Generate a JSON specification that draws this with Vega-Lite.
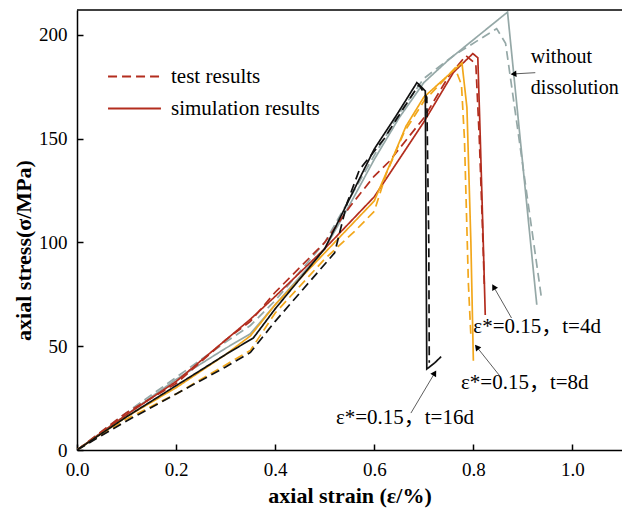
{
  "$schema": "https://vega.github.io/schema/vega-lite/v6.json",
  "width": 545,
  "height": 440,
  "autosize": "none",
  "padding": {"left": 77, "top": 10, "right": 0, "bottom": 62},
  "background": "white",
  "config": {
    "view": {"stroke": null},
    "axis": {
      "grid": false,
      "labelFlush": false,
      "domainColor": "black",
      "domainWidth": 1.5,
      "tickColor": "black",
      "tickWidth": 1.5,
      "tickSize": -6,
      "labelFont": "Liberation Serif, Times New Roman, serif",
      "labelFontSize": 19,
      "labelColor": "black",
      "titleFont": "Liberation Serif, Times New Roman, serif",
      "titleFontSize": 22,
      "titleFontWeight": "bold",
      "titleColor": "black"
    }
  },
  "datasets": {
    "curves": [
      {"s": "without dissolution", "k": "simulation results", "i": 0, "x": 0, "y": 0},
      {"s": "without dissolution", "k": "simulation results", "i": 1, "x": 0.1, "y": 17},
      {"s": "without dissolution", "k": "simulation results", "i": 2, "x": 0.2, "y": 34},
      {"s": "without dissolution", "k": "simulation results", "i": 3, "x": 0.3, "y": 49},
      {"s": "without dissolution", "k": "simulation results", "i": 4, "x": 0.35, "y": 56},
      {"s": "without dissolution", "k": "simulation results", "i": 5, "x": 0.4, "y": 70},
      {"s": "without dissolution", "k": "simulation results", "i": 6, "x": 0.5, "y": 97},
      {"s": "without dissolution", "k": "simulation results", "i": 7, "x": 0.55, "y": 118},
      {"s": "without dissolution", "k": "simulation results", "i": 8, "x": 0.6, "y": 140},
      {"s": "without dissolution", "k": "simulation results", "i": 9, "x": 0.65, "y": 160},
      {"s": "without dissolution", "k": "simulation results", "i": 10, "x": 0.7, "y": 177},
      {"s": "without dissolution", "k": "simulation results", "i": 11, "x": 0.75, "y": 188},
      {"s": "without dissolution", "k": "simulation results", "i": 12, "x": 0.869, "y": 211},
      {"s": "without dissolution", "k": "simulation results", "i": 13, "x": 0.928, "y": 70},
      {"s": "without dissolution", "k": "test results", "i": 0, "x": 0, "y": 0},
      {"s": "without dissolution", "k": "test results", "i": 1, "x": 0.1, "y": 18},
      {"s": "without dissolution", "k": "test results", "i": 2, "x": 0.2, "y": 35},
      {"s": "without dissolution", "k": "test results", "i": 3, "x": 0.3, "y": 52},
      {"s": "without dissolution", "k": "test results", "i": 4, "x": 0.35, "y": 60},
      {"s": "without dissolution", "k": "test results", "i": 5, "x": 0.4, "y": 72},
      {"s": "without dissolution", "k": "test results", "i": 6, "x": 0.5, "y": 100},
      {"s": "without dissolution", "k": "test results", "i": 7, "x": 0.55, "y": 121},
      {"s": "without dissolution", "k": "test results", "i": 8, "x": 0.6, "y": 142},
      {"s": "without dissolution", "k": "test results", "i": 9, "x": 0.65, "y": 162},
      {"s": "without dissolution", "k": "test results", "i": 10, "x": 0.7, "y": 179},
      {"s": "without dissolution", "k": "test results", "i": 11, "x": 0.76, "y": 190},
      {"s": "without dissolution", "k": "test results", "i": 12, "x": 0.847, "y": 203},
      {"s": "without dissolution", "k": "test results", "i": 13, "x": 0.865, "y": 196},
      {"s": "without dissolution", "k": "test results", "i": 14, "x": 0.937, "y": 74},
      {"s": "t=4d", "k": "simulation results", "i": 0, "x": 0, "y": 0},
      {"s": "t=4d", "k": "simulation results", "i": 1, "x": 0.1, "y": 17},
      {"s": "t=4d", "k": "simulation results", "i": 2, "x": 0.2, "y": 33},
      {"s": "t=4d", "k": "simulation results", "i": 3, "x": 0.3, "y": 53},
      {"s": "t=4d", "k": "simulation results", "i": 4, "x": 0.35, "y": 63},
      {"s": "t=4d", "k": "simulation results", "i": 5, "x": 0.4, "y": 74},
      {"s": "t=4d", "k": "simulation results", "i": 6, "x": 0.5, "y": 97},
      {"s": "t=4d", "k": "simulation results", "i": 7, "x": 0.6, "y": 122},
      {"s": "t=4d", "k": "simulation results", "i": 8, "x": 0.7, "y": 158},
      {"s": "t=4d", "k": "simulation results", "i": 9, "x": 0.76, "y": 182},
      {"s": "t=4d", "k": "simulation results", "i": 10, "x": 0.799, "y": 191},
      {"s": "t=4d", "k": "simulation results", "i": 11, "x": 0.809, "y": 189},
      {"s": "t=4d", "k": "simulation results", "i": 12, "x": 0.814, "y": 150},
      {"s": "t=4d", "k": "simulation results", "i": 13, "x": 0.82, "y": 100},
      {"s": "t=4d", "k": "simulation results", "i": 14, "x": 0.824, "y": 65},
      {"s": "t=4d", "k": "test results", "i": 0, "x": 0, "y": 0},
      {"s": "t=4d", "k": "test results", "i": 1, "x": 0.1, "y": 18},
      {"s": "t=4d", "k": "test results", "i": 2, "x": 0.2, "y": 32},
      {"s": "t=4d", "k": "test results", "i": 3, "x": 0.3, "y": 53},
      {"s": "t=4d", "k": "test results", "i": 4, "x": 0.35, "y": 62},
      {"s": "t=4d", "k": "test results", "i": 5, "x": 0.4, "y": 76},
      {"s": "t=4d", "k": "test results", "i": 6, "x": 0.5, "y": 100},
      {"s": "t=4d", "k": "test results", "i": 7, "x": 0.55, "y": 117},
      {"s": "t=4d", "k": "test results", "i": 8, "x": 0.6, "y": 132},
      {"s": "t=4d", "k": "test results", "i": 9, "x": 0.63, "y": 139},
      {"s": "t=4d", "k": "test results", "i": 10, "x": 0.7, "y": 160},
      {"s": "t=4d", "k": "test results", "i": 11, "x": 0.75, "y": 180},
      {"s": "t=4d", "k": "test results", "i": 12, "x": 0.785, "y": 190},
      {"s": "t=4d", "k": "test results", "i": 13, "x": 0.805, "y": 186},
      {"s": "t=4d", "k": "test results", "i": 14, "x": 0.812, "y": 150},
      {"s": "t=4d", "k": "test results", "i": 15, "x": 0.818, "y": 110},
      {"s": "t=4d", "k": "test results", "i": 16, "x": 0.822, "y": 80},
      {"s": "t=8d", "k": "simulation results", "i": 0, "x": 0, "y": 0},
      {"s": "t=8d", "k": "simulation results", "i": 1, "x": 0.1, "y": 16},
      {"s": "t=8d", "k": "simulation results", "i": 2, "x": 0.2, "y": 30},
      {"s": "t=8d", "k": "simulation results", "i": 3, "x": 0.3, "y": 46},
      {"s": "t=8d", "k": "simulation results", "i": 4, "x": 0.35, "y": 55},
      {"s": "t=8d", "k": "simulation results", "i": 5, "x": 0.4, "y": 70},
      {"s": "t=8d", "k": "simulation results", "i": 6, "x": 0.5, "y": 95},
      {"s": "t=8d", "k": "simulation results", "i": 7, "x": 0.6, "y": 120},
      {"s": "t=8d", "k": "simulation results", "i": 8, "x": 0.616, "y": 129},
      {"s": "t=8d", "k": "simulation results", "i": 9, "x": 0.636, "y": 140},
      {"s": "t=8d", "k": "simulation results", "i": 10, "x": 0.664, "y": 156},
      {"s": "t=8d", "k": "simulation results", "i": 11, "x": 0.7, "y": 170},
      {"s": "t=8d", "k": "simulation results", "i": 12, "x": 0.777, "y": 186.5},
      {"s": "t=8d", "k": "simulation results", "i": 13, "x": 0.787, "y": 165},
      {"s": "t=8d", "k": "simulation results", "i": 14, "x": 0.795, "y": 100},
      {"s": "t=8d", "k": "simulation results", "i": 15, "x": 0.8, "y": 43},
      {"s": "t=8d", "k": "test results", "i": 0, "x": 0, "y": 0},
      {"s": "t=8d", "k": "test results", "i": 1, "x": 0.1, "y": 15},
      {"s": "t=8d", "k": "test results", "i": 2, "x": 0.2, "y": 27},
      {"s": "t=8d", "k": "test results", "i": 3, "x": 0.3, "y": 41},
      {"s": "t=8d", "k": "test results", "i": 4, "x": 0.35, "y": 48},
      {"s": "t=8d", "k": "test results", "i": 5, "x": 0.4, "y": 66},
      {"s": "t=8d", "k": "test results", "i": 6, "x": 0.5, "y": 92},
      {"s": "t=8d", "k": "test results", "i": 7, "x": 0.563, "y": 106},
      {"s": "t=8d", "k": "test results", "i": 8, "x": 0.6, "y": 115},
      {"s": "t=8d", "k": "test results", "i": 9, "x": 0.624, "y": 133},
      {"s": "t=8d", "k": "test results", "i": 10, "x": 0.66, "y": 153},
      {"s": "t=8d", "k": "test results", "i": 11, "x": 0.7, "y": 168},
      {"s": "t=8d", "k": "test results", "i": 12, "x": 0.763, "y": 184},
      {"s": "t=8d", "k": "test results", "i": 13, "x": 0.776, "y": 176},
      {"s": "t=8d", "k": "test results", "i": 14, "x": 0.782, "y": 150},
      {"s": "t=8d", "k": "test results", "i": 15, "x": 0.79, "y": 80},
      {"s": "t=8d", "k": "test results", "i": 16, "x": 0.795, "y": 55},
      {"s": "t=16d", "k": "simulation results", "i": 0, "x": 0, "y": 0},
      {"s": "t=16d", "k": "simulation results", "i": 1, "x": 0.1, "y": 16},
      {"s": "t=16d", "k": "simulation results", "i": 2, "x": 0.2, "y": 31},
      {"s": "t=16d", "k": "simulation results", "i": 3, "x": 0.3, "y": 46},
      {"s": "t=16d", "k": "simulation results", "i": 4, "x": 0.356, "y": 54},
      {"s": "t=16d", "k": "simulation results", "i": 5, "x": 0.4, "y": 68},
      {"s": "t=16d", "k": "simulation results", "i": 6, "x": 0.5, "y": 97},
      {"s": "t=16d", "k": "simulation results", "i": 7, "x": 0.6, "y": 145},
      {"s": "t=16d", "k": "simulation results", "i": 8, "x": 0.644, "y": 161},
      {"s": "t=16d", "k": "simulation results", "i": 9, "x": 0.686, "y": 177},
      {"s": "t=16d", "k": "simulation results", "i": 10, "x": 0.703, "y": 173},
      {"s": "t=16d", "k": "simulation results", "i": 11, "x": 0.706, "y": 39},
      {"s": "t=16d", "k": "simulation results", "i": 12, "x": 0.722, "y": 42},
      {"s": "t=16d", "k": "simulation results", "i": 13, "x": 0.735, "y": 45},
      {"s": "t=16d", "k": "test results", "i": 0, "x": 0, "y": 0},
      {"s": "t=16d", "k": "test results", "i": 1, "x": 0.1, "y": 14},
      {"s": "t=16d", "k": "test results", "i": 2, "x": 0.2, "y": 27},
      {"s": "t=16d", "k": "test results", "i": 3, "x": 0.3, "y": 40},
      {"s": "t=16d", "k": "test results", "i": 4, "x": 0.35, "y": 47},
      {"s": "t=16d", "k": "test results", "i": 5, "x": 0.4, "y": 62},
      {"s": "t=16d", "k": "test results", "i": 6, "x": 0.52, "y": 95},
      {"s": "t=16d", "k": "test results", "i": 7, "x": 0.545, "y": 119},
      {"s": "t=16d", "k": "test results", "i": 8, "x": 0.57, "y": 135},
      {"s": "t=16d", "k": "test results", "i": 9, "x": 0.62, "y": 150},
      {"s": "t=16d", "k": "test results", "i": 10, "x": 0.66, "y": 165},
      {"s": "t=16d", "k": "test results", "i": 11, "x": 0.69, "y": 176},
      {"s": "t=16d", "k": "test results", "i": 12, "x": 0.706, "y": 170},
      {"s": "t=16d", "k": "test results", "i": 13, "x": 0.71, "y": 100},
      {"s": "t=16d", "k": "test results", "i": 14, "x": 0.711, "y": 42}
    ],
    "notes": [
      {"label": "without", "x": 0.916, "y": 189.4, "size": "small"},
      {"label": "dissolution", "x": 0.916, "y": 174.5, "size": "small"},
      {"label": "ε*=0.15，t=4d", "x": 0.8, "y": 59.3, "size": "big"},
      {"label": "ε*=0.15，t=8d", "x": 0.775, "y": 32.3, "size": "big"},
      {"label": "ε*=0.15，t=16d", "x": 0.5225, "y": 15.4, "size": "big"}
    ],
    "arrows": [
      {"id": "w", "x": 0.925, "y": 181.8, "x2": 0.881, "y2": 181.2},
      {"id": "a4", "x": 0.877, "y": 63.6, "x2": 0.841, "y2": 78.6},
      {"id": "a8", "x": 0.855, "y": 35.2, "x2": 0.807, "y2": 49.6},
      {"id": "a16", "x": 0.674, "y": 17.8, "x2": 0.722, "y2": 37.1}
    ]
  },
  "layer": [
    {
      "data": {"name": "curves"},
      "mark": {"type": "line", "strokeWidth": 1.7, "clip": true},
      "encoding": {
        "x": {
          "field": "x", "type": "quantitative",
          "scale": {"domain": [0, 1.1], "nice": false},
          "axis": {"values": [0, 0.2, 0.4, 0.6, 0.8, 1.0], "format": ".1f", "labelPadding": 16, "title": "axial strain (ε/%)", "titlePadding": 6}
        },
        "y": {
          "field": "y", "type": "quantitative",
          "scale": {"domain": [0, 212], "nice": false},
          "axis": {"values": [0, 50, 100, 150, 200], "labelPadding": 16, "title": "axial stress(σ/MPa)", "titleX": -54, "titleY": 240, "titleAngle": -90, "titleAlign": "center", "titleBaseline": "middle"}
        },
        "color": {
          "field": "s", "type": "nominal",
          "scale": {"domain": ["without dissolution", "t=4d", "t=8d", "t=16d"], "range": ["#95A8A7", "#B32D1E", "#F2A71B", "#111111"]},
          "legend": null
        },
        "strokeDash": {
          "field": "k", "type": "nominal",
          "scale": {"domain": ["test results", "simulation results"], "range": [[9, 5], [1, 0]]},
          "legend": {
            "orient": "none", "legendX": 47, "legendY": 56, "title": null,
            "symbolType": "M-5,0H5", "symbolSize": 112, "symbolStrokeColor": "#B32D1E", "symbolStrokeWidth": 2,
            "labelFont": "Liberation Serif, Times New Roman, serif", "labelFontSize": 21, "labelColor": "black", "labelOffset": 26, "rowPadding": 10
          }
        },
        "order": {"field": "i", "type": "quantitative"}
      }
    },
    {
      "data": {"values": [{}]},
      "mark": {"type": "rule", "color": "black", "strokeWidth": 1.5},
      "encoding": {"y": {"datum": 212}}
    },
    {
      "data": {"name": "notes"},
      "mark": {"type": "text", "align": "left", "baseline": "middle", "font": "Liberation Serif, Noto Sans CJK SC, serif", "color": "black"},
      "encoding": {
        "x": {"field": "x", "type": "quantitative"},
        "y": {"field": "y", "type": "quantitative"},
        "text": {"field": "label"},
        "size": {"field": "size", "type": "nominal", "scale": {"domain": ["small", "big"], "range": [20, 21]}, "legend": null}
      }
    },
    {
      "data": {"name": "arrows"},
      "mark": {"type": "rule", "color": "#333", "strokeWidth": 0.8},
      "encoding": {
        "x": {"field": "x", "type": "quantitative"},
        "y": {"field": "y", "type": "quantitative"},
        "x2": {"field": "x2"},
        "y2": {"field": "y2"}
      }
    },
    {
      "data": {"name": "arrows"},
      "transform": [{"filter": "datum.id == 'w'"}],
      "mark": {"type": "point", "shape": "triangle-up", "filled": true, "color": "black", "size": 45, "angle": 266, "opacity": 1},
      "encoding": {"x": {"field": "x2", "type": "quantitative"}, "y": {"field": "y2", "type": "quantitative"}}
    },
    {
      "data": {"name": "arrows"},
      "transform": [{"filter": "datum.id == 'a4'"}],
      "mark": {"type": "point", "shape": "triangle-up", "filled": true, "color": "black", "size": 45, "angle": 330, "opacity": 1},
      "encoding": {"x": {"field": "x2", "type": "quantitative"}, "y": {"field": "y2", "type": "quantitative"}}
    },
    {
      "data": {"name": "arrows"},
      "transform": [{"filter": "datum.id == 'a8'"}],
      "mark": {"type": "point", "shape": "triangle-up", "filled": true, "color": "black", "size": 45, "angle": 321, "opacity": 1},
      "encoding": {"x": {"field": "x2", "type": "quantitative"}, "y": {"field": "y2", "type": "quantitative"}}
    },
    {
      "data": {"name": "arrows"},
      "transform": [{"filter": "datum.id == 'a16'"}],
      "mark": {"type": "point", "shape": "triangle-up", "filled": true, "color": "black", "size": 45, "angle": 31, "opacity": 1},
      "encoding": {"x": {"field": "x2", "type": "quantitative"}, "y": {"field": "y2", "type": "quantitative"}}
    }
  ]
}
